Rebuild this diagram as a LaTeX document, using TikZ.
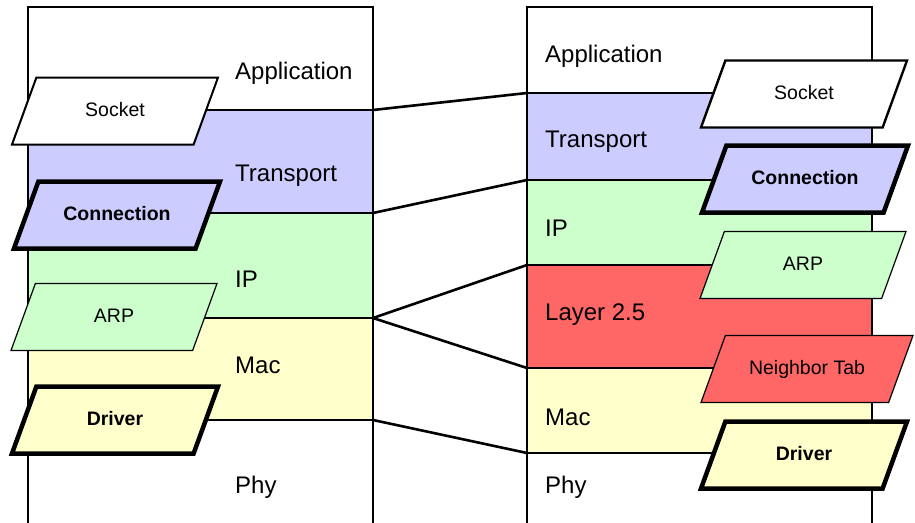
\documentclass[tikz,border=0pt]{standalone}
\usepackage{fontspec}
\setmainfont{Liberation Sans}
\usepackage{xcolor}
\usetikzlibrary{shapes.geometric}

\definecolor{transportblue}{HTML}{CCCCFF}
\definecolor{ipgreen}{HTML}{CCFFCC}
\definecolor{macyellow}{HTML}{FFFFCC}
\definecolor{shimred}{HTML}{FF6666}

\begin{document}
\begin{tikzpicture}[
  x=1pt, y=-1pt,
  layer label/.style={anchor=west, inner sep=0pt, font=\fontsize{24}{28}\selectfont},
  module/.style={draw, trapezium, trapezium left angle=70, trapezium right angle=110, trapezium stretches body, minimum width=206pt, text height=14pt, text depth=4pt, inner ysep=24.5pt, inner xsep=0pt, font=\fontsize{19.5}{23}\selectfont},
  thin module/.style={module, line width=1.2pt},
  plain module/.style={module, line width=2.4pt},
  bold module/.style={module, line width=4.5pt, font=\fontsize{19.5}{23}\selectfont\bfseries},
  stack/.style={line width=2pt},
  link/.style={line width=2.6pt},
]
\useasboundingbox (0,0) rectangle (915,522);

% Schichtgrenzen
\coordinate (l-app) at (373,110);
\coordinate (l-tra) at (373,213);
\coordinate (l-ip) at (373,318);
\coordinate (l-mac) at (373,420);
\coordinate (r-app) at (527,93);
\coordinate (r-tra) at (527,180);
\coordinate (r-ip) at (527,265);
\coordinate (r-shim) at (527,368);
\coordinate (r-mac) at (527,453);

% Stapel links
\fill[transportblue] (28,110) rectangle (l-tra);
\fill[ipgreen] (28,213) rectangle (l-ip);
\fill[macyellow] (28,318) rectangle (l-mac);
\draw[stack] (28,530) |- (373,7) -- (373,530);
\draw[stack] (28,110) -- (l-app);
\draw[stack] (28,213) -- (l-tra);
\draw[stack] (28,318) -- (l-ip);
\draw[stack] (28,420) -- (l-mac);

% Stapel rechts
\fill[transportblue] (r-app) rectangle (872,180);
\fill[ipgreen] (r-tra) rectangle (872,265);
\fill[shimred] (r-ip) rectangle (872,368);
\fill[macyellow] (r-shim) rectangle (872,453);
\draw[stack] (527,530) |- (872,7) -- (872,530);
\draw[stack] (r-app) -- (872,93);
\draw[stack] (r-tra) -- (872,180);
\draw[stack] (r-ip) -- (872,265);
\draw[stack] (r-shim) -- (872,368);
\draw[stack] (r-mac) -- (872,453);

% Verbindungen
\draw[link] (l-app) -- (r-app);
\draw[link] (l-tra) -- (r-tra);
\draw[link] (l-ip) -- (r-ip);
\draw[link] (l-ip) -- (r-shim);
\draw[link] (l-mac) -- (r-mac);

% Schichtnamen
\node[layer label] (l-application) at (235,73) {Application};
\node[layer label] (l-transport) at (235,176) {Transport};
\node[layer label] (l-network) at (235,279) {IP};
\node[layer label] (l-link) at (235,365) {Mac};
\node[layer label] (l-phy) at (235,487) {Phy};
\node[layer label] (r-application) at (545,56) {Application};
\node[layer label] (r-transport) at (545,142) {Transport};
\node[layer label] (r-network) at (545,228) {IP};
\node[layer label] (r-layer) at (545,315) {Layer 2.5};
\node[layer label] (r-link) at (545,417) {Mac};
\node[layer label] (r-phy) at (545,487) {Phy};

% Module
\node[plain module, line width=2pt, fill=white] (l-socket) at (115,111) {Socket};
\node[bold module, fill=transportblue] (l-connection) at (117,215) {Connection};
\node[thin module, fill=ipgreen] (l-arp) at (114,317) {ARP};
\node[bold module, fill=macyellow] (l-driver) at (115,420) {Driver};
\node[plain module, fill=white] (r-socket) at (804,94) {Socket};
\node[bold module, fill=transportblue] (r-connection) at (805,179) {Connection};
\node[thin module, fill=ipgreen] (r-arp) at (803,265) {ARP};
\node[thin module, fill=shimred, minimum width=212pt] (r-neighbor) at (807,369) {Neighbor Tab};
\node[bold module, fill=macyellow] (r-driver) at (804,455) {Driver};

\end{tikzpicture}
\end{document}
